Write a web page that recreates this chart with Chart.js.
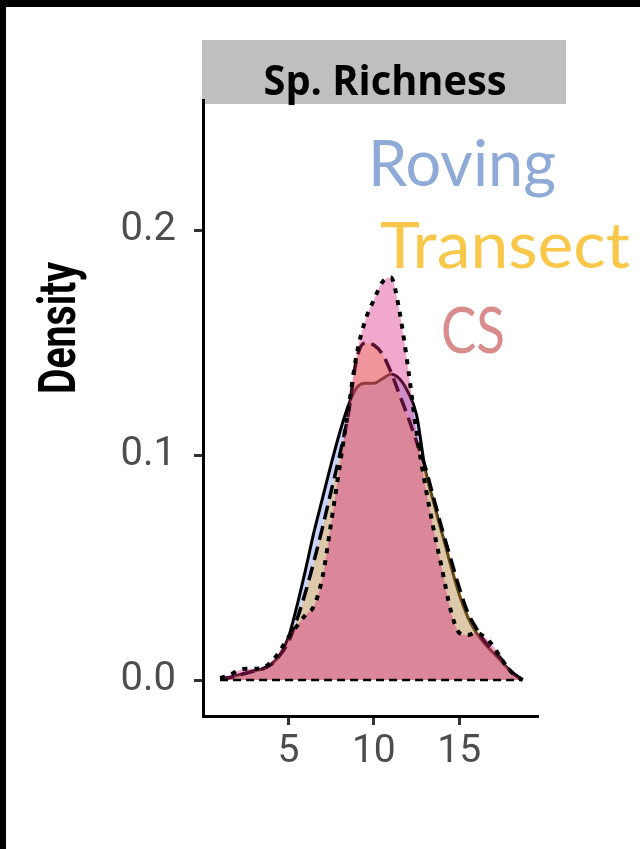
<!DOCTYPE html>
<html>
<head>
<meta charset="utf-8">
<script src="https://cdn.jsdelivr.net/npm/chart.js@4.4.1/dist/chart.umd.min.js"></script>
<style>
    body { margin: 0; background: #fff; }
    #wrap { position: relative; width: 640px; height: 849px; }
</style>
</head>
<body>
<div id="wrap"><canvas id="densityChart" width="640" height="849"></canvas></div>
<script>
// Sp. Richness values (x) and density estimates
const richness = [1, 1.5, 2, 2.5, 3, 3.5, 4, 4.5, 5, 5.5, 6, 6.5, 7, 7.5, 8, 8.5, 9, 9.5, 10, 10.5, 11, 11.5, 12, 12.5, 13, 13.5, 14, 14.5, 15, 15.5, 16, 16.5, 17, 17.5, 18, 18.7];
const roving   = [0.0005, 0.001, 0.002, 0.003, 0.004, 0.005, 0.007, 0.011, 0.019, 0.033, 0.049, 0.066, 0.081, 0.096, 0.110, 0.122, 0.130, 0.132, 0.132, 0.134, 0.136, 0.134, 0.128, 0.118, 0.094, 0.079, 0.065, 0.051, 0.038, 0.028, 0.021, 0.016, 0.012, 0.008, 0.004, 0];
const transect = [0.0005, 0.001, 0.002, 0.003, 0.004, 0.005, 0.007, 0.011, 0.017, 0.027, 0.039, 0.053, 0.068, 0.084, 0.100, 0.118, 0.143, 0.150, 0.149, 0.145, 0.137, 0.127, 0.117, 0.106, 0.095, 0.081, 0.067, 0.054, 0.041, 0.030, 0.023, 0.017, 0.013, 0.009, 0.004, 0];
const cs       = [0.001, 0.002, 0.004, 0.005, 0.005, 0.0055, 0.008, 0.013, 0.019, 0.024, 0.029, 0.033, 0.046, 0.070, 0.095, 0.120, 0.145, 0.160, 0.169, 0.177, 0.179, 0.164, 0.139, 0.110, 0.087, 0.067, 0.049, 0.031, 0.021, 0.020, 0.021, 0.019, 0.015, 0.009, 0.004, 0];
const baseline = [0, 0];
const baselineX = [1, 18.7];

const xTicks = [5, 10, 15];
const yTicks = [0, 0.1, 0.2];

const groups = ['Roving', 'Transect', 'CS'];
const panelTitle = 'Sp. Richness';
const yTitle = 'Density';

function pts(xv, yv) {
    return xv.map((x, i) => ({ x: x, y: yv[i] }));
}

// draws text squeezed/stretched to a given width
function fitText(ctx, text, x, y, width, rotate) {
    const w = ctx.measureText(text).width;
    ctx.save();
    ctx.translate(x, y);
    if (rotate) ctx.rotate(-Math.PI / 2);
    ctx.scale(width / w, 1);
    ctx.fillText(text, 0, 0);
    ctx.restore();
}

const decorations = {
    id: 'decorations',
    beforeDraw(chart) {
        const ctx = chart.ctx;
        const area = chart.chartArea;
        ctx.save();
        ctx.fillStyle = '#fff';
        ctx.fillRect(0, 0, chart.width, chart.height);
        // strip header
        ctx.fillStyle = '#bfbfbf';
        ctx.fillRect(area.left - 1, 40, 364, 64);
        ctx.restore();
    },
    afterDraw(chart) {
        const ctx = chart.ctx;
        const area = chart.chartArea;
        ctx.save();
        // frame edges
        ctx.fillStyle = '#000';
        ctx.fillRect(0, 0, chart.width, 7);
        ctx.fillRect(0, 0, 6, chart.height);

        ctx.fillStyle = '#000';
        ctx.textAlign = 'center';
        ctx.textBaseline = 'alphabetic';
        ctx.font = 'bold 42px "Open Sans"';
        fitText(ctx, panelTitle, area.left + 182, 95, 243, false);

        ctx.font = 'bold 52px Roboto';
        fitText(ctx, yTitle, 75, 328, 132, true);

        // group labels
        ctx.textAlign = 'left';
        ctx.font = '400 64px Lato';
        ctx.fillStyle = '#8faad6';
        fitText(ctx, groups[0], 368, 186, 188, false);
        ctx.fillStyle = '#f9c84a';
        fitText(ctx, groups[1], 380, 268, 250, false);
        ctx.fillStyle = '#d98c8c';
        fitText(ctx, groups[2], 441, 353, 64, false);
        ctx.restore();
    }
};

const ctx = document.getElementById('densityChart').getContext('2d');

new Chart(ctx, {
    type: 'line',
    data: {
        datasets: [
            {
                label: 'baseline',
                data: pts(baselineX, baseline),
                borderColor: '#000',
                borderWidth: 2.5,
                borderDash: [8, 5],
                fill: false,
                order: 0
            },
            {
                label: groups[2],
                data: pts(richness, cs),
                borderColor: '#000',
                backgroundColor: 'rgba(217, 37, 127, 0.4)',
                borderWidth: 4,
                borderDash: [5, 7],
                fill: 'origin',
                order: 1
            },
            {
                label: groups[1],
                data: pts(richness, transect),
                borderColor: '#000',
                backgroundColor: 'rgba(255, 182, 50, 0.4)',
                borderWidth: 3.5,
                borderDash: [14, 7],
                fill: 'origin',
                order: 2
            },
            {
                label: groups[0],
                data: pts(richness, roving),
                borderColor: '#000',
                backgroundColor: 'rgba(117, 147, 242, 0.4)',
                borderWidth: 3,
                fill: 'origin',
                order: 3
            }
        ]
    },
    options: {
        responsive: false,
        animation: false,
        cubicInterpolationMode: 'monotone',
        elements: { point: { radius: 0 } },
        layout: { padding: { left: 0, top: 100, right: 103, bottom: 73 } },
        plugins: {
            legend: { display: false },
            tooltip: { enabled: false }
        },
        scales: {
            x: {
                type: 'linear',
                min: 0,
                max: 19.55,
                afterBuildTicks: s => { s.ticks = xTicks.map(v => ({ value: v })); },
                afterFit: s => { s.height = 60; },
                border: { color: '#000', width: 3 },
                grid: { drawOnChartArea: false, tickLength: 9, color: '#333', lineWidth: 3 },
                ticks: {
                    color: '#4d4d4d',
                    font: { family: 'Roboto', size: 39 },
                    padding: 4,
                    maxRotation: 0
                }
            },
            y: {
                min: -0.016,
                max: 0.258,
                afterBuildTicks: s => { s.ticks = yTicks.map(v => ({ value: v })); },
                afterFit: s => { s.width = 203; },
                border: { color: '#000', width: 3 },
                grid: { drawOnChartArea: false, tickLength: 9, color: '#333', lineWidth: 3 },
                ticks: {
                    color: '#4d4d4d',
                    font: { family: 'Roboto', size: 40 },
                    padding: 18,
                    callback: v => v.toFixed(1)
                }
            }
        }
    },
    plugins: [decorations]
});
</script>
</body>
</html>
